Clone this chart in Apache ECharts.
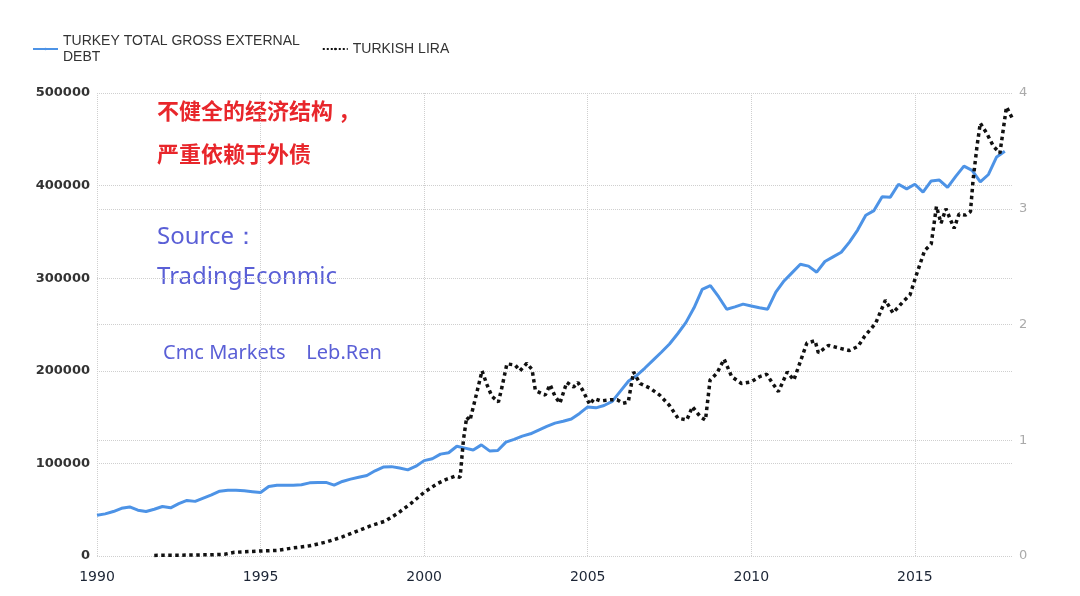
<!DOCTYPE html>
<html>
<head>
<meta charset="utf-8">
<script src="https://cdn.jsdelivr.net/npm/echarts@6/dist/echarts.min.js"></script>
<style>
  html, body { margin: 0; padding: 0; background: #fff; }
  #chart { width: 1080px; height: 596px; }
</style>
</head>
<body>
<div id="chart"></div>
<script>
// turkey gross external debt, quarterly (USD mn)
var debtYears = [
  1990.0, 1990.25, 1990.5, 1990.75, 1991.0, 1991.25, 1991.5, 1991.75,
  1992.0, 1992.25, 1992.5, 1992.75, 1993.0, 1993.25, 1993.5, 1993.75,
  1994.0, 1994.25, 1994.5, 1994.75, 1995.0, 1995.25, 1995.5, 1995.75,
  1996.0, 1996.25, 1996.5, 1996.75, 1997.0, 1997.25, 1997.5, 1997.75,
  1998.0, 1998.25, 1998.5, 1998.75, 1999.0, 1999.25, 1999.5, 1999.75,
  2000.0, 2000.25, 2000.5, 2000.75, 2001.0, 2001.25, 2001.5, 2001.75,
  2002.0, 2002.25, 2002.5, 2002.75, 2003.0, 2003.25, 2003.5, 2003.75,
  2004.0, 2004.25, 2004.5, 2004.75, 2005.0, 2005.25, 2005.5, 2005.75,
  2006.0, 2006.25, 2006.5, 2006.75, 2007.0, 2007.25, 2007.5, 2007.75,
  2008.0, 2008.25, 2008.5, 2008.75, 2009.0, 2009.25, 2009.5, 2009.75,
  2010.0, 2010.25, 2010.5, 2010.75, 2011.0, 2011.25, 2011.5, 2011.75,
  2012.0, 2012.25, 2012.5, 2012.75, 2013.0, 2013.25, 2013.5, 2013.75,
  2014.0, 2014.25, 2014.5, 2014.75, 2015.0, 2015.25, 2015.5, 2015.75,
  2016.0, 2016.25, 2016.5, 2016.75, 2017.0, 2017.25, 2017.5, 2017.75
];
var debtValues = [
  44000, 45500, 48000, 51500, 53000, 49500, 48000, 50500,
  53500, 52000, 56500, 60000, 59000, 62500, 66000, 70000,
  71000, 71000, 70500, 69500, 68500, 75000, 76500, 76500,
  76500, 77000, 79000, 79500, 79500, 76500, 80500, 83000,
  85000, 87000, 92000, 96000, 96500, 95000, 93000, 97000,
  103000, 105000, 110000, 111500, 118500, 116500, 114500, 120000,
  113500, 114000, 123000, 126000, 129500, 132000, 136000, 140000,
  143500, 145500, 148000, 154000, 161000, 160000, 162500, 167000,
  178000, 189000, 195000, 203000, 211500, 220000, 229000, 240000,
  252000, 268000, 288000, 292000, 280000, 266500, 269000, 272000,
  270000, 268000, 266500, 285000, 297000, 306000, 315000, 313000,
  306500, 318000, 323000, 328000, 339000, 352000, 368000, 373000,
  388000, 387500, 401500, 396500, 401500, 393000, 405000, 406000,
  398000, 410000, 421000, 416500, 404000, 412000, 431000, 437000
];

// turkish lira (per usd)
var liraYears = [
  1991.75, 1992.0, 1992.5, 1993.0, 1993.5, 1993.9, 1994.2, 1994.5, 1995.0, 1995.5,
  1996.0, 1996.5, 1997.0, 1997.5, 1998.0, 1998.4, 1998.8, 1999.2, 1999.6, 2000.0,
  2000.4, 2000.7, 2000.95, 2001.1, 2001.2, 2001.3, 2001.4, 2001.6, 2001.77, 2001.92,
  2002.07, 2002.27, 2002.38, 2002.53, 2002.78, 2002.93, 2003.14, 2003.3, 2003.4, 2003.7,
  2003.85, 2004.0, 2004.15, 2004.36, 2004.57, 2004.7, 2004.85, 2005.06, 2005.2, 2005.4,
  2005.7, 2005.9, 2006.08, 2006.24, 2006.4, 2006.6, 2006.9, 2007.2, 2007.5, 2007.76,
  2008.03, 2008.2, 2008.45, 2008.6, 2008.74, 2008.95, 2009.17, 2009.4, 2009.7, 2010.0,
  2010.26, 2010.47, 2010.62, 2010.83, 2011.1, 2011.3, 2011.55, 2011.7, 2011.95, 2012.05,
  2012.36, 2012.7, 2013.0, 2013.26, 2013.47, 2013.8, 2014.1, 2014.33, 2014.65, 2014.85,
  2015.06, 2015.3, 2015.5, 2015.66, 2015.8, 2015.95, 2016.2, 2016.35, 2016.55, 2016.7,
  2016.78, 2016.9, 2017.0, 2017.2, 2017.4, 2017.6, 2017.7, 2017.8, 2018.0
];
var liraValues = [
  0.005, 0.006, 0.007, 0.009, 0.011, 0.015, 0.032, 0.036, 0.043, 0.048,
  0.07, 0.088, 0.12, 0.165, 0.22, 0.265, 0.3, 0.37, 0.455, 0.55,
  0.625, 0.665, 0.69, 0.68, 1.0, 1.2, 1.17, 1.4, 1.6, 1.48,
  1.38, 1.33, 1.46, 1.66, 1.65, 1.6, 1.665, 1.61, 1.43, 1.39,
  1.48, 1.38, 1.32, 1.5, 1.46, 1.5, 1.43, 1.31, 1.36, 1.34,
  1.35, 1.35, 1.32, 1.33, 1.59, 1.49, 1.45, 1.39, 1.3, 1.19,
  1.175, 1.29, 1.2, 1.175, 1.52, 1.58, 1.7, 1.55, 1.49, 1.505,
  1.55, 1.57, 1.505, 1.42, 1.59, 1.52, 1.72, 1.84, 1.86, 1.755,
  1.82, 1.795, 1.775, 1.81, 1.9, 2.01, 2.21, 2.1, 2.2, 2.255,
  2.44, 2.64, 2.695, 3.02, 2.875, 3.0, 2.83, 2.955, 2.945, 2.975,
  3.25, 3.54, 3.74, 3.65, 3.54, 3.48, 3.68, 3.88, 3.77
];

var debtName = 'TURKEY TOTAL GROSS EXTERNAL\nDEBT';
var liraName = 'TURKISH LIRA';

function pairs(xs, ys) {
  var out = [];
  for (var i = 0; i < xs.length; i++) {
    out.push([xs[i], ys[i]]);
  }
  return out;
}

var chart = echarts.init(document.getElementById('chart'));

var gridLine = {
  show: true,
  lineStyle: { color: '#cfcfcf', type: 'dotted', width: 1 }
};

var option = {
  backgroundColor: '#fff',
  animation: false,
  legend: {
    left: 27,
    top: 28,
    itemWidth: 25,
    itemHeight: 3,
    itemGap: 22,
    textStyle: {
      fontFamily: 'Liberation Sans',
      fontSize: 14,
      color: '#333',
      lineHeight: 16
    },
    data: [
      { name: debtName },
      { name: liraName }
    ]
  },
  grid: {
    left: 97,
    right: 67,
    top: 93,
    bottom: 40
  },
  xAxis: {
    type: 'value',
    min: 1990,
    max: 2018,
    interval: 5,
    axisLine: { show: false },
    axisTick: { show: false },
    axisLabel: {
      showMaxLabel: false,
      margin: 14,
      fontFamily: 'DejaVu Sans',
      fontSize: 14,
      color: '#1c2535',
      formatter: function (v) { return String(v); }
    },
    splitLine: {
      show: true,
      showMaxLine: false,
      lineStyle: { color: '#cfcfcf', type: 'dotted', width: 1 }
    }
  },
  yAxis: [
    {
      type: 'value',
      min: 0,
      max: 500000,
      interval: 100000,
      axisLine: { show: false },
      axisTick: { show: false },
      axisLabel: {
        margin: 7,
        fontFamily: 'DejaVu Sans',
        fontSize: 13,
        fontWeight: 'bold',
        color: '#333',
        formatter: function (v) { return String(v); }
      },
      splitLine: gridLine
    },
    {
      type: 'value',
      min: 0,
      max: 4,
      interval: 1,
      position: 'right',
      axisLine: { show: false },
      axisTick: { show: false },
      axisLabel: {
        margin: 6,
        fontFamily: 'DejaVu Sans',
        fontSize: 13,
        color: '#aaa'
      },
      splitLine: gridLine
    }
  ],
  series: [
    {
      name: debtName,
      type: 'line',
      yAxisIndex: 0,
      symbol: 'none',
      color: '#4d93e6',
      lineStyle: { width: 3, color: '#4d93e6' },
      data: pairs(debtYears, debtValues),
      z: 3
    },
    {
      name: liraName,
      type: 'line',
      yAxisIndex: 1,
      symbol: 'none',
      color: '#111',
      lineStyle: { width: 3.5, color: '#111', type: 'dotted' },
      data: pairs(liraYears, liraValues),
      z: 4
    }
  ],
  graphic: [
    {
      type: 'text',
      left: 157,
      top: 89,
      style: {
        text: '不健全的经济结构 ，\n严重依赖于外债',
        fill: '#e8262b',
        font: 'bold 22px "Noto Sans CJK SC"',
        lineHeight: 43
      }
    },
    {
      type: 'text',
      left: 157,
      top: 217,
      style: {
        text: 'Source：\nTradingEconmic',
        fill: '#5a5fd6',
        font: '24px "Noto Sans"',
        lineHeight: 40
      }
    },
    {
      type: 'text',
      left: 163,
      top: 343,
      style: {
        text: 'Cmc Markets    Leb.Ren',
        fill: '#5a5fd6',
        font: '20px "Noto Sans"'
      }
    }
  ]
};

chart.setOption(option);
</script>
</body>
</html>
